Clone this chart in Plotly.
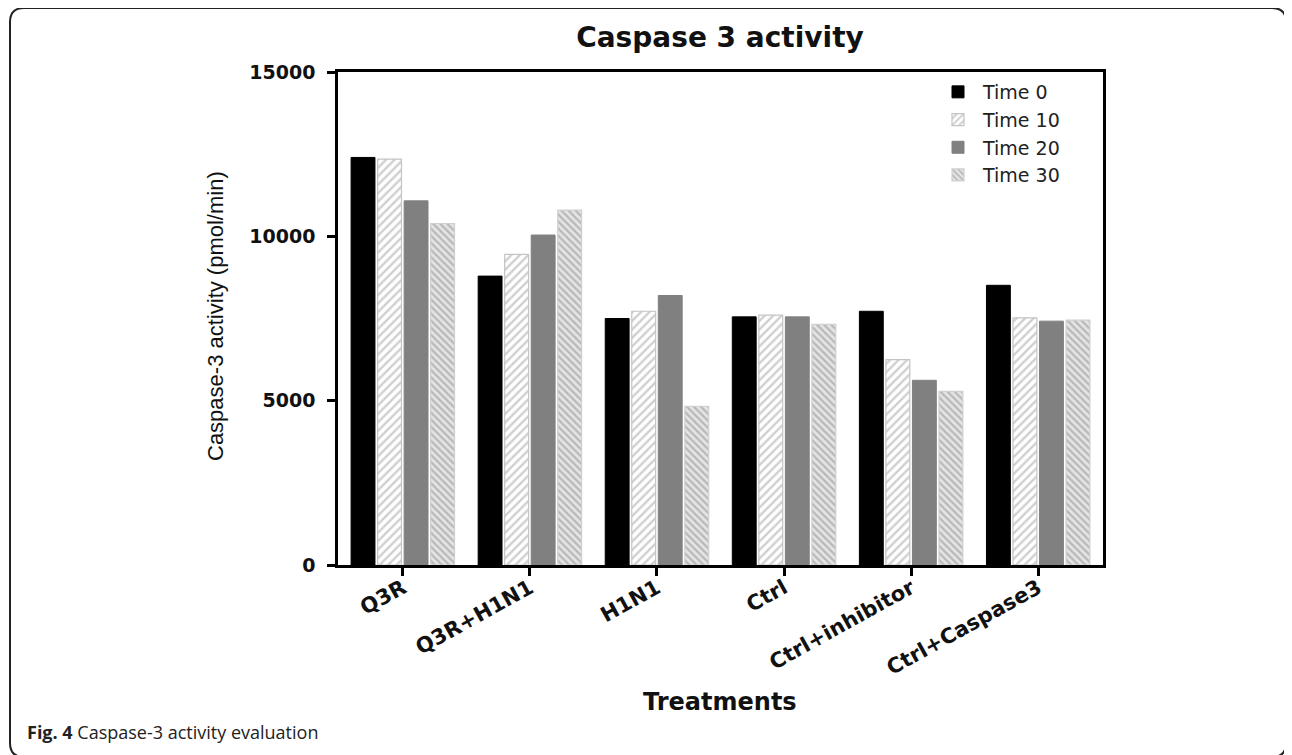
import plotly.graph_objects as go

categories = ["Q3R", "Q3R+H1N1", "H1N1", "Ctrl", "Ctrl+inhibitor", "Ctrl+Caspase3"]
series_names = ["Time 0", "Time 10", "Time 20", "Time 30"]
time0 = [12400, 8790, 7500, 7550, 7720, 8510]
time10 = [12350, 9450, 7720, 7600, 6250, 7520]
time20 = [11080, 10040, 8200, 7550, 5620, 7420]
time30 = [10390, 10800, 4830, 7320, 5280, 7450]
y_ticks = [0, 5000, 10000, 15000]

OFF = 8  # page body margin
W, H = 1292 - OFF, 755 - OFF
L, R, T, B = 338 - OFF, 1103 - OFF, 72 - OFF, 565 - OFF  # plot area in figure pixels
pw, ph = R - L, B - T

def px(x):
    return (x - OFF - L) / pw

def py(y):
    return (B - (y - OFF)) / ph

styles = [
    dict(color="#000000", line=dict(color="#000000", width=1)),
    dict(color="#ffffff", line=dict(color="#c4c4c4", width=1.2),
         pattern=dict(shape="/", fgcolor="#a0a0a0", bgcolor="#ffffff", size=6, solidity=0.4)),
    dict(color="#808080", line=dict(color="#808080", width=1)),
    dict(color="#dcdcdc", line=dict(color="#d0d0d0", width=1.2),
         pattern=dict(shape="\\", fgcolor="#8c8c8c", bgcolor="#e4e4e4", size=5, solidity=0.45)),
]

fig = go.Figure()
for name, vals, st in zip(series_names, [time0, time10, time20, time30], styles):
    fig.add_trace(go.Bar(x=categories, y=vals, name=name, marker=st, legendgroup=name))

# rounded outer frame (page pixel coordinates)
fx0, fx1, fy0, fy1, r = 10, 1286, 8, 757, 14
rx, ry = r / pw, r / ph
X0, X1, Y0, Y1 = px(fx0), px(fx1), py(fy1), py(fy0)
path = (f"M {X0+rx},{Y1} L {X1-rx},{Y1} Q {X1},{Y1} {X1},{Y1-ry} "
        f"L {X1},{Y0+ry} Q {X1},{Y0} {X1-rx},{Y0} L {X0+rx},{Y0} "
        f"Q {X0},{Y0} {X0},{Y0+ry} L {X0},{Y1-ry} Q {X0},{Y1} {X0+rx},{Y1} Z")

fig.update_layout(
    width=W, height=H,
    margin=dict(l=L, r=W - R, t=T, b=H - B, autoexpand=False),
    paper_bgcolor="white", plot_bgcolor="white",
    barmode="group", bargap=0.165, bargroupgap=0.1,
    title=dict(text="<b>Caspase 3 activity</b>", x=px(720), xref="paper", xanchor="center",
               y=1 - (37 - OFF) / H, yref="container", yanchor="middle",
               font=dict(family="DejaVu Sans", size=28, color="#111111")),
    font=dict(family="DejaVu Sans", color="#111111"),
    legend=dict(x=px(933), y=py(73), xanchor="left", yanchor="top",
                bgcolor="rgba(0,0,0,0)", font=dict(family="DejaVu Sans", size=19, color="#222222"),
                tracegroupgap=0, itemwidth=40),
    shapes=[dict(type="path", xref="paper", yref="paper", path=path,
                 line=dict(color="#222222", width=2), layer="above")],
    annotations=[
        dict(text="Caspase-3 activity (pmol/min)", xref="paper", yref="paper",
             x=px(215), y=py(316), textangle=-90, showarrow=False,
             xanchor="center", yanchor="middle",
             font=dict(family="Liberation Sans", size=22, color="#111111")),
        dict(text="<b>Treatments</b>", xref="paper", yref="paper",
             x=px(720), y=py(702), showarrow=False, xanchor="center", yanchor="middle",
             font=dict(family="DejaVu Sans", size=24, color="#111111")),
        dict(text="<b>Fig. 4</b> Caspase-3 activity evaluation", xref="paper", yref="paper",
             x=px(25), y=py(732), showarrow=False, xanchor="left", yanchor="middle",
             font=dict(family="Open Sans", size=18, color="#222222")),
    ],
)

fig.update_xaxes(
    showline=True, linecolor="black", linewidth=2.5, mirror=True,
    ticks="outside", ticklen=8, tickwidth=2.5, tickcolor="black",
    tickangle=-29, tickfont=dict(family="DejaVu Sans", size=21, color="#111111", weight="bold"),
    range=[-0.51, 5.51], showgrid=False, zeroline=False, ticklabelstandoff=-8,
)
fig.update_yaxes(
    showline=True, linecolor="black", linewidth=2.5, mirror=True,
    ticks="outside", ticklen=8, tickwidth=2.5, tickcolor="black",
    tickvals=y_ticks, ticktext=[str(v) for v in y_ticks],
    tickfont=dict(family="DejaVu Sans", size=19, color="#111111", weight="bold"),
    range=[0, 15000], showgrid=False, zeroline=False, ticklabelstandoff=8,
)

fig.write_html("out.html")
